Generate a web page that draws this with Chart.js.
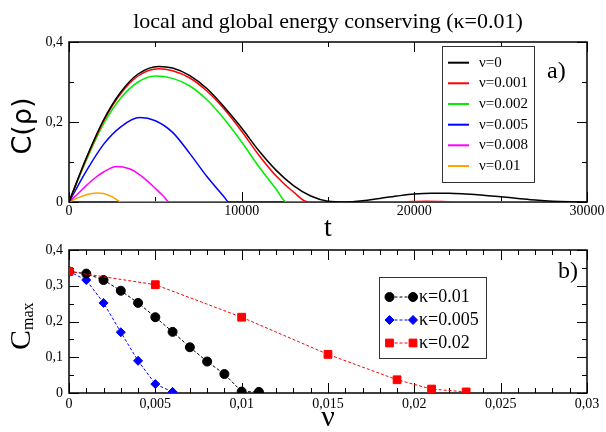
<!DOCTYPE html>
<html>
<head>
<meta charset="utf-8">
<script src="https://cdn.jsdelivr.net/npm/chart.js@4.4.1/dist/chart.umd.min.js"></script>
<style>
  html, body { margin: 0; padding: 0; background: #fff; }
  #wrap { position: relative; width: 606px; height: 432px; }
  canvas { position: absolute; left: 0; top: 0; display: block; }
</style>
</head>
<body>
<div id="wrap">
  <canvas id="top" width="606" height="432"></canvas>
  <canvas id="bottom" width="606" height="432"></canvas>
</div>
<script>
// ---- panel a): C(rho) against t, one curve per nu ----
const tNu0 = [0, 1000, 2000, 3000, 4000, 5200, 6000, 7000, 8000, 9000, 10000, 11000, 12000, 13000, 14000, 15000, 16000, 17000, 18000, 19000, 20000, 21000, 22000, 23000, 24000, 25000, 26000, 27000, 28000, 29000, 30000];
const cNu0 = [0, 0.11, 0.205, 0.275, 0.32, 0.339, 0.335, 0.316, 0.283, 0.237, 0.185, 0.128, 0.079, 0.041, 0.015, 0.002, 0, 0.003, 0.009, 0.015, 0.02, 0.022, 0.022, 0.02, 0.017, 0.013, 0.009, 0.005, 0.002, 0.0005, 0];

const tNu001 = [0, 1000, 2000, 3000, 4000, 5200, 6000, 7000, 8000, 9000, 10000, 11000, 12000, 13000, 13850, 19000, 20700, 22500, 30000];
const cNu001 = [0, 0.108, 0.202, 0.271, 0.315, 0.333, 0.328, 0.31, 0.277, 0.232, 0.177, 0.117, 0.065, 0.025, 0, 0, 0.002, 0, 0];

const tNu002 = [0, 1000, 2000, 3000, 4000, 5000, 6000, 7000, 8000, 9000, 10000, 11000, 12000, 12600, 30000];
const cNu002 = [0, 0.104, 0.195, 0.26, 0.3, 0.315, 0.309, 0.29, 0.255, 0.207, 0.15, 0.088, 0.032, 0, 0];

const tNu005 = [0, 1000, 2000, 3000, 4100, 5000, 6000, 7000, 8000, 9000, 9250, 30000];
const cNu005 = [0, 0.077, 0.144, 0.188, 0.211, 0.203, 0.174, 0.121, 0.063, 0.012, 0, 0];

const tNu008 = [0, 500, 1000, 1500, 2000, 2750, 3500, 4000, 4500, 5000, 5500, 5800, 30000];
const cNu008 = [0, 0.02, 0.041, 0.06, 0.075, 0.089, 0.083, 0.071, 0.054, 0.034, 0.013, 0, 0];

const tNu01 = [0, 500, 1000, 1600, 2000, 2500, 3050, 30000];
const cNu01 = [0, 0.01, 0.018, 0.0225, 0.021, 0.013, 0, 0];

// ---- panel b): C_max against nu, one series per kappa ----
const nuK01 = [0, 0.001, 0.002, 0.003, 0.004, 0.005, 0.006, 0.007, 0.008, 0.009, 0.01, 0.011];
const cmaxK01 = [0.34, 0.334, 0.316, 0.286, 0.252, 0.212, 0.171, 0.128, 0.088, 0.053, 0.004, 0.003];

const nuK005 = [0, 0.001, 0.002, 0.003, 0.004, 0.005, 0.006];
const cmaxK005 = [0.34, 0.316, 0.252, 0.17, 0.09, 0.025, 0.003];

const nuK02 = [0, 0.005, 0.01, 0.015, 0.019, 0.021, 0.023];
const cmaxK02 = [0.34, 0.303, 0.212, 0.108, 0.037, 0.011, 0.003];

const SERIF = "'Liberation Serif', 'Times New Roman', serif";
Chart.defaults.font.family = SERIF;
Chart.defaults.color = '#000';

const pairs = (xs, ys) => xs.map((v, i) => ({ x: v, y: ys[i] }));
const comma = (v, digits) => v === 0 ? '0' : String(+v.toFixed(digits)).replace('.', ',');

// frame plus inward tick marks on all four sides
const frame = {
  id: 'frame',
  beforeDatasetsDraw(chart, args, o) {
    const { ctx, chartArea: a, scales: { x, y } } = chart;
    ctx.save();
    ctx.strokeStyle = '#000';
    ctx.lineWidth = 1;
    const mark = (scale, step, len) => {
      for (let v = scale.min; v <= scale.max + step / 1000; v += step) {
        const p = Math.round(scale.getPixelForValue(v)) + 0.5;
        ctx.beginPath();
        if (scale.axis === 'x') {
          ctx.moveTo(p, a.bottom); ctx.lineTo(p, a.bottom - len);
          ctx.moveTo(p, a.top); ctx.lineTo(p, a.top + len);
        } else {
          ctx.moveTo(a.left, p); ctx.lineTo(a.left + len, p);
          ctx.moveTo(a.right, p); ctx.lineTo(a.right - len, p);
        }
        ctx.stroke();
      }
    };
    mark(x, o.xMinor, 5);
    mark(x, o.xMajor, 10);
    mark(y, o.yMinor, 5);
    mark(y, o.yMajor, 10);
    ctx.lineWidth = 1.5;
    ctx.strokeRect(a.left, a.top, a.right - a.left, a.bottom - a.top);
    ctx.restore();
  }
};

// boxed legend, drawn from the datasets themselves
const boxLegend = {
  id: 'boxLegend',
  afterDatasetsDraw(chart, args, o) {
    const { ctx } = chart;
    const [bx, by, bw, bh] = o.box;
    ctx.save();
    ctx.fillStyle = '#fff';
    ctx.fillRect(bx, by, bw, bh);
    ctx.strokeStyle = '#333';
    ctx.lineWidth = 1;
    ctx.strokeRect(bx + 0.5, by + 0.5, bw, bh);
    ctx.font = o.font;
    ctx.textBaseline = 'middle';
    chart.data.datasets.forEach((ds, i) => {
      const yy = o.rows[i];
      ctx.strokeStyle = ds.borderColor;
      ctx.lineWidth = o.markers ? 1 : 2;
      ctx.setLineDash(o.markers ? ds.borderDash : []);
      ctx.beginPath();
      ctx.moveTo(o.x0, yy);
      ctx.lineTo(o.x1, yy);
      ctx.stroke();
      ctx.setLineDash([]);
      if (o.markers) {
        ctx.fillStyle = ds.backgroundColor;
        const pt = { pointStyle: ds.pointStyle, radius: ds.pointRadius, borderWidth: 1, rotation: 0 };
        Chart.helpers.drawPoint(ctx, pt, o.x0, yy);
        Chart.helpers.drawPoint(ctx, pt, o.x1, yy);
      }
      ctx.fillStyle = '#000';
      ctx.fillText(ds.label, o.tx, yy);
    });
    ctx.restore();
  }
};

// free text: title, axis names, panel letters
const texts = {
  id: 'texts',
  afterDraw(chart, args, o) {
    const { ctx } = chart;
    o.items.forEach(it => {
      ctx.save();
      ctx.translate(it.x, it.y);
      if (it.rotate) ctx.rotate(-Math.PI / 2);
      ctx.fillStyle = '#000';
      ctx.textAlign = it.align || 'left';
      ctx.textBaseline = 'alphabetic';
      let dx = 0;
      it.parts.forEach(p => {
        ctx.font = p.font;
        ctx.fillText(p.text, dx, p.dy || 0);
        dx += ctx.measureText(p.text).width;
      });
      ctx.restore();
    });
  }
};

const curve = (label, xs, ys, color) => ({
  label, data: pairs(xs, ys), borderColor: color, backgroundColor: color,
  borderWidth: 1.5, pointRadius: 0, showLine: true, cubicInterpolationMode: 'monotone'
});

const marked = (label, xs, ys, color, style, radius, order) => ({
  label, data: pairs(xs, ys), borderColor: color, backgroundColor: color,
  borderWidth: 1, borderDash: [3, 2], showLine: true, pointStyle: style,
  pointRadius: radius, pointBorderWidth: 1, order
});

const axisY = (step, cb) => ({
  type: 'linear', min: 0, max: 0.4,
  afterFit: s => { s.width = 69; },
  grid: { display: false, drawTicks: false }, border: { display: false },
  ticks: { stepSize: step, padding: 6, font: { size: 14 }, callback: cb }
});

new Chart(document.getElementById('top'), {
  type: 'scatter',
  data: {
    datasets: [
      curve('\u03bd=0', tNu0, cNu0, '#000000'),
      curve('\u03bd=0.001', tNu001, cNu001, '#ff0000'),
      curve('\u03bd=0.002', tNu002, cNu002, '#00ee00'),
      curve('\u03bd=0.005', tNu005, cNu005, '#0000ff'),
      curve('\u03bd=0.008', tNu008, cNu008, '#ff00ff'),
      curve('\u03bd=0.01', tNu01, cNu01, '#ffa500')
    ]
  },
  options: {
    responsive: false, animation: false, events: [],
    layout: { padding: { left: 0, right: 19, top: 42, bottom: 192 } },
    plugins: {
      legend: { display: false }, tooltip: { enabled: false },
      frame: { xMajor: 10000, xMinor: 5000, yMajor: 0.2, yMinor: 0.1 },
      boxLegend: { box: [442, 46, 92, 136], rows: [62.7, 83.3, 104, 124.7, 145.3, 166], x0: 448, x1: 469, tx: 479, font: '15px ' + SERIF },
      texts: { items: [
        { x: 328, y: 28, align: 'center', parts: [{ text: 'local and global energy conserving (\u03ba=0.01)', font: '22px ' + SERIF }] },
        { x: 31, y: 126, rotate: true, align: 'center', parts: [{ text: 'C(\u03c1)', font: "27px 'DejaVu Sans', sans-serif" }] },
        { x: 547, y: 78, parts: [{ text: 'a)', font: '24px ' + SERIF }] },
        { x: 328, y: 236, align: 'center', parts: [{ text: 't', font: '28px ' + SERIF }] }
      ] }
    },
    scales: {
      x: {
        type: 'linear', min: 0, max: 30000,
        afterFit: s => { s.height = 38; },
        grid: { display: false, drawTicks: false }, border: { display: false },
        ticks: { stepSize: 10000, padding: 1, maxRotation: 0, autoSkip: false, font: { size: 14 }, callback: v => String(v) }
      },
      y: axisY(0.2, v => comma(v, 1))
    }
  },
  plugins: [frame, boxLegend, texts]
});

new Chart(document.getElementById('bottom'), {
  type: 'scatter',
  data: {
    datasets: [
      marked('\u03ba=0.01', nuK01, cmaxK01, '#000000', 'circle', 4.5, 1),
      marked('\u03ba=0.005', nuK005, cmaxK005, '#0000ff', 'rectRot', 4.5, 2),
      marked('\u03ba=0.02', nuK02, cmaxK02, '#ff0000', 'rect', 5.5, 0)
    ]
  },
  options: {
    responsive: false, animation: false, events: [],
    layout: { padding: { left: 0, right: 19, top: 250, bottom: 0 } },
    plugins: {
      legend: { display: false }, tooltip: { enabled: false },
      frame: { xMajor: 0.005, xMinor: 0.001, yMajor: 0.1, yMinor: 0.05 },
      boxLegend: { box: [379, 277, 107, 81], rows: [297, 320, 343], x0: 389.5, x1: 413, tx: 419, markers: true, font: '18px ' + SERIF },
      texts: { items: [
        { x: 30, y: 350, rotate: true, parts: [{ text: 'C', font: '30px ' + SERIF }, { text: 'max', font: '16px ' + SERIF, dy: 3 }] },
        { x: 558, y: 278, parts: [{ text: 'b)', font: '24px ' + SERIF }] },
        { x: 328, y: 426, align: 'center', parts: [{ text: '\u03bd', font: '30px ' + SERIF }] }
      ] }
    },
    scales: {
      x: {
        type: 'linear', min: 0, max: 0.03,
        afterFit: s => { s.height = 39; },
        grid: { display: false, drawTicks: false }, border: { display: false },
        ticks: { stepSize: 0.005, padding: 3, maxRotation: 0, autoSkip: false, font: { size: 14 }, callback: v => comma(v, 4) }
      },
      y: axisY(0.1, v => comma(v, 1))
    }
  },
  plugins: [frame, boxLegend, texts]
});
</script>
</body>
</html>
